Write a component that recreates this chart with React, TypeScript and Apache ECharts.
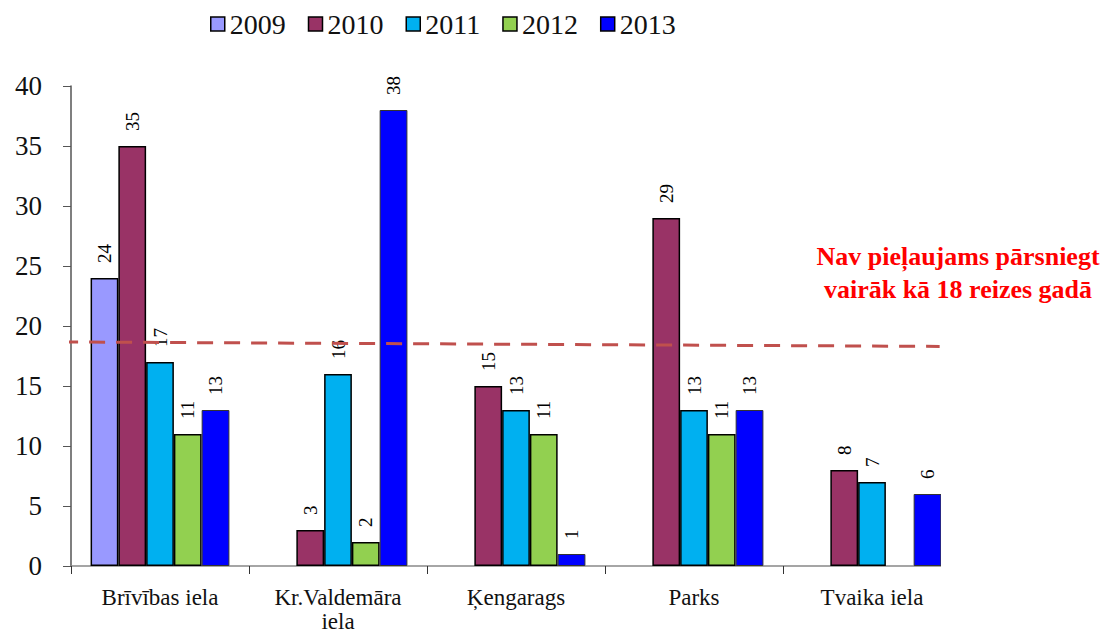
import React, { useEffect, useRef } from "react";
import * as echarts from "echarts";

const categories = ["Brīvības iela", "Kr.Valdemāra\niela", "Ķengarags", "Parks", "Tvaika iela"];
const years = ["2009", "2010", "2011", "2012", "2013"];
const values2009 = [24, "-", "-", "-", "-"];
const values2010 = [35, 3, 15, 29, 8];
const values2011 = [17, 16, 13, 13, 7];
const values2012 = [11, 2, 11, 11, "-"];
const values2013 = [13, 38, 1, 13, 6];
const yTicks = { min: 0, max: 40, interval: 5 };
// slightly sloped threshold line, [relative position along plot, value]
const thresholdLine = [
  [-0.01, 18.67],
  [0.976, 18.3],
];
const annotation = "Nav pieļaujams pārsniegt\nvairāk kā 18 reizes gadā";

const colors = ["#9999FF", "#993366", "#00B0F0", "#92D050", "#0000FF"];
const seriesValues = [values2009, values2010, values2011, values2012, values2013];
const serif = '"Liberation Serif", "Times New Roman", serif';

export default function App() {
  const ref = useRef<HTMLDivElement>(null);
  useEffect(() => {
    if (!ref.current) return;
    const chart = echarts.init(ref.current, null, { renderer: "svg" });
    const barSeries = years.map((y, i) => ({
      name: y,
      type: "bar",
      data: seriesValues[i],
      barGap: "0%",
      barCategoryGap: "22%",
      itemStyle: {
        color: colors[i],
        borderColor: i === 4 ? "#333" : "#000",
        borderWidth: i === 4 ? 1 : 1.5,
      },
      label: {
        show: true,
        position: "top",
        rotate: 90,
        align: "left",
        verticalAlign: "middle",
        distance: 15,
        fontFamily: serif,
        fontSize: 19,
        color: "#000",
      },
    }));
    chart.setOption({
      animation: false,
      backgroundColor: "#fff",
      legend: {
        data: years.map((y, i) => ({ name: y, itemStyle: { color: colors[i], borderColor: "#000", borderWidth: 1.5 } })),
        left: 205,
        top: 5,
        icon: "rect",
        itemWidth: 14,
        itemHeight: 14,
        itemGap: 22,
        textStyle: { fontFamily: serif, fontSize: 28, color: "#111" },
        selectedMode: false,
      },
      grid: { left: 71, top: 86, width: 890, bottom: 69, containLabel: false, outerBoundsMode: "none" },
      xAxis: [
        {
          type: "category",
          data: categories,
          axisLine: { lineStyle: { color: "#888", width: 1.5 } },
          axisTick: { show: true, length: 8, lineStyle: { color: "#333" } },
          axisLabel: {
            fontFamily: serif,
            fontSize: 23,
            color: "#111",
            margin: 19,
            lineHeight: 24,
            interval: 0,
          },
        },
        { type: "value", min: 0, max: 1, show: false },
      ],
      yAxis: {
        type: "value",
        min: yTicks.min,
        max: yTicks.max,
        interval: yTicks.interval,
        splitLine: { show: false },
        axisLine: { show: true, lineStyle: { color: "#555", width: 1.5 } },
        axisTick: { show: true, length: 8, lineStyle: { color: "#555" } },
        axisLabel: { fontFamily: serif, fontSize: 27, color: "#111", margin: 29 },
      },
      series: [
        ...barSeries,
        {
          name: "threshold",
          type: "line",
          xAxisIndex: 1,
          data: thresholdLine,
          symbol: "none",
          clip: false,
          silent: true,
          z: 5,
          lineStyle: { color: "#C0504D", width: 3, type: [16, 11] },
        },
      ],
      graphic: [
        {
          type: "rect",
          z: 100,
          shape: { x: 941, y: 330, width: 170, height: 310 },
          style: { fill: "#fff" },
        },
        {
          type: "text",
          z: 101,
          x: 958,
          y: 240,
          style: {
            text: annotation,
            fill: "#FF0000",
            font: `bold 26px ${serif}`,
            textAlign: "center",
            lineHeight: 33,
          },
        },
      ],
    });
    return () => chart.dispose();
  }, []);
  return <div ref={ref} style={{ position: "fixed", left: 0, top: 0, width: 1106, height: 635 }} />;
}
